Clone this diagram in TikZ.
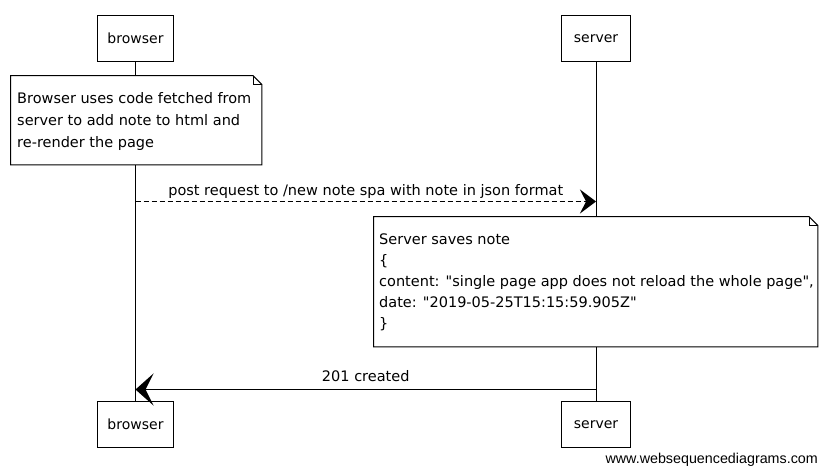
\documentclass[tikz,border=0pt]{standalone}
\usepackage{fontspec}
\setmainfont{DejaVu Sans}[Ligatures=TeXOff]
\newfontfamily\footfont{Liberation Sans}
\usetikzlibrary{arrows.meta}
\begin{document}
\begin{tikzpicture}[x=1pt,y=-1pt,
  actor/.style={draw, line width=1pt, minimum height=46pt, inner sep=0pt,
    font=\fontsize{14}{16}\selectfont},
  lifeline/.style={line width=0.8pt},
  notebody/.style={draw, fill=white, line width=1pt},
  fold/.style={line width=0.6pt},
  notetext/.style={align=left, anchor=base west, inner sep=0pt},
  msg/.style={line width=1pt},
  msglabel/.style={font=\fontsize{14.5}{16}\selectfont, anchor=base, inner sep=0pt}
]
\useasboundingbox (0,0) rectangle (827,471);
\fill[white] (0,0) rectangle (827,471);

% participants, top and bottom
\node[actor, minimum width=76pt] (bt) at (135.5,38.5) {browser};
\node[actor, minimum width=69pt] (st) at (596,38.5) {server};
\node[actor, minimum width=76pt] (bb) at (135.5,424.5) {browser};
\node[actor, minimum width=69pt] (sb) at (596,424.5) {server};

% lifelines
\draw[lifeline] (bt) -- (bb);
\draw[lifeline] (st) -- (sb);

% note on the browser (multi-line text is anchored on its last baseline)
\node[minimum width=251pt, minimum height=89pt, anchor=north west, inner sep=0pt] (n1) at (10.5,75.5) {};
\path[notebody] (n1.north west) -- ([xshift=-9pt]n1.north east) -- ([yshift=-9pt]n1.north east)
  -- (n1.south east) -- (n1.south west) -- cycle;
\draw[fold] ([xshift=-9pt]n1.north east) -- ([xshift=-9pt,yshift=-9pt]n1.north east) -- ([yshift=-9pt]n1.north east);
\node[notetext, font=\fontsize{14.5}{22}\selectfont] (n1t) at (17,147)
  {Browser uses code fetched from\\server to add note to html and\\re-render the page};

% request message
\coordinate (m1a) at (bt.south |- 0,201.5);
\coordinate (m1b) at (st.south |- 0,201.5);
\draw[msg, dash pattern=on 5pt off 3pt, -{Stealth[length=16pt,width=24pt,inset=6pt]}] (m1a) --
  node[msglabel, pos=0.5, yshift=6pt] (l1) {post request to /new note spa with note in json format} (m1b);

% note on the server
\node[minimum width=444pt, minimum height=130pt, anchor=north west, inner sep=0pt] (n2) at (373.5,216.5) {};
\path[notebody] (n2.north west) -- ([xshift=-9pt]n2.north east) -- ([yshift=-9pt]n2.north east)
  -- (n2.south east) -- (n2.south west) -- cycle;
\draw[fold] ([xshift=-9pt]n2.north east) -- ([xshift=-9pt,yshift=-9pt]n2.north east) -- ([yshift=-9pt]n2.north east);
\node[notetext, font=\fontsize{14.5}{21}\selectfont] (n2t) at (379,328)
  {Server saves note\\\{\\content: "single page app does not reload the whole page",\\date: "2019-05-25T15:15:59.905Z"\\\}};

% response message
\coordinate (m2a) at (sb.north |- 0,389.5);
\coordinate (m2b) at (bb.north |- 0,389.5);
\draw[msg, -{Stealth[length=18pt,width=32pt,inset=8pt]}] (m2a) --
  node[msglabel, pos=0.5, yshift=8pt] (l2) {201 created} (m2b);

% footer
\node[font=\footfont\fontsize{14.3}{16}\selectfont, anchor=base east, inner sep=0pt] (wsd) at (818,463) {www.websequencediagrams.com};
\end{tikzpicture}
\end{document}
